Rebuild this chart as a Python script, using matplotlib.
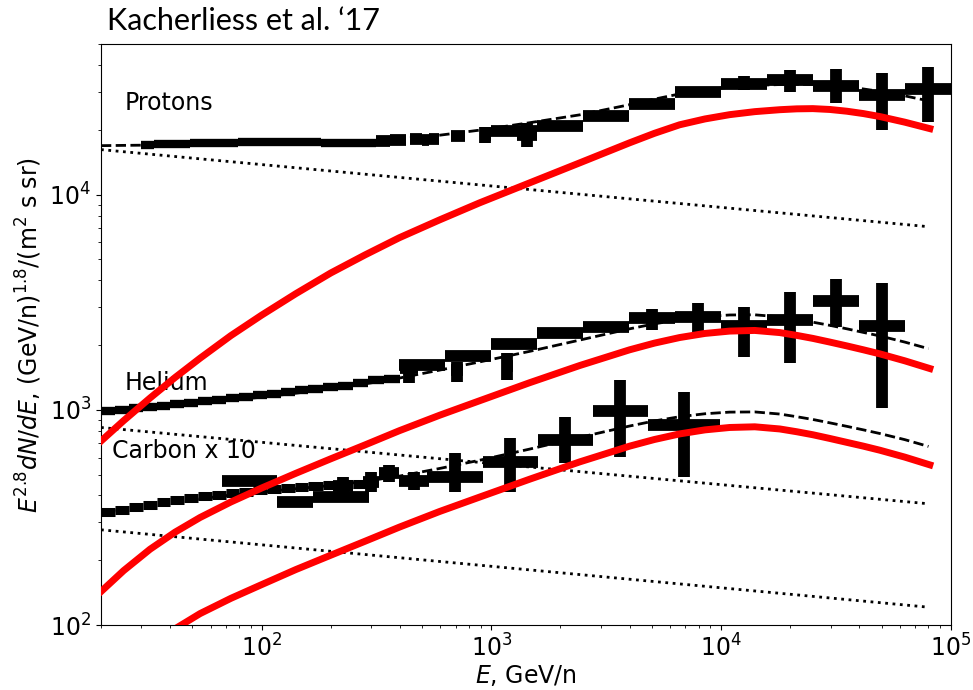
import numpy as np
import matplotlib
matplotlib.use("Agg")
import matplotlib.pyplot as plt

# model curves, E in GeV/n, flux in E^2.8 dN/dE units
E_DOT = [20, 80000]
P_DOT = [16200, 7100]
HE_DOT = [828, 366]
C_DOT = [277, 121]

E_MODEL = [20, 25.1, 32.7, 42, 54, 73.5, 100, 141, 200, 282, 398, 596, 889, 1469, 2427,
           4000, 5129, 6607, 8511, 10910, 14030, 18030, 21380, 25120, 29790, 35320,
           41690, 49200, 63100, 81100]

P_RED = [716, 891, 1135, 1413, 1738, 2213, 2754, 3467, 4325, 5248, 6310, 7638, 9162, 11350, 14060,
         17420, 19280, 21130, 22490, 23550, 24320, 24830, 25060, 25120, 24890, 24430,
         23820, 23070, 21730, 20280]
HE_RED = [143, 179, 225, 270, 316, 373, 433, 507, 592, 687, 800, 944, 1102, 1337, 1607,
          1901, 2042, 2168, 2265, 2323, 2339, 2286, 2218, 2148, 2065, 1982,
          1901, 1820, 1690, 1556]
C_RED = [51, 64, 80, 96, 113, 133, 154, 181, 211, 245, 285, 337, 393, 476, 573,
         678, 728, 773, 807, 828, 834, 815, 791, 766, 736, 706,
         678, 649, 603, 555]

P_TOT = [16900, 16950, 17000, 17050, 17100, 17150, 17200, 17300, 17450, 17700, 18150, 18900, 19950, 21600, 23500,
         26200, 27800, 29400, 30700, 31600, 32200, 32500, 32600, 32500, 32200, 31700,
         31000, 30200, 28800, 27300]
HE_TOT = [982, 995, 1018, 1040, 1075, 1110, 1145, 1195, 1255, 1320, 1405, 1530, 1670, 1870, 2110,
          2380, 2510, 2625, 2715, 2760, 2765, 2705, 2630, 2555, 2470, 2380,
          2290, 2205, 2065, 1925]
C_TOT = [332, 343, 358, 374, 386, 402, 415, 430, 445, 465, 492, 534, 583, 657, 745,
         841, 888, 929, 959, 976, 978, 956, 929, 902, 870, 838,
         807, 776, 727, 676]

# measured points: narrow-bin band (no visible y error)
P_BAND_LO = [30, 34, 38.5, 43.5, 49, 55, 62, 70, 79, 89, 100, 113, 127, 143, 161, 181, 204, 230, 259, 287]
P_BAND_HI = [34, 38.5, 43.5, 49, 55, 62, 70, 79, 89, 100, 113, 127, 143, 161, 181, 204, 230, 259, 287, 316]
P_BAND = [17100, 17150, 17200, 17250, 17300, 17350, 17400, 17450, 17500, 17550,
          17550, 17600, 17600, 17550, 17500, 17450, 17450, 17400, 17450, 17460]

HE_BAND_LO = [20, 23, 26.5, 30.5, 35, 40, 46, 53, 61, 70, 80, 92, 106, 122, 140, 160, 185, 215, 250, 290, 340]
HE_BAND_HI = [23, 26.5, 30.5, 35, 40, 46, 53, 61, 70, 80, 92, 106, 122, 140, 160, 185, 215, 250, 290, 340, 400]
HE_BAND = [985, 1000, 1015, 1030, 1045, 1060, 1080, 1095, 1115, 1135, 1150,
           1170, 1190, 1215, 1235, 1255, 1275, 1290, 1330, 1380, 1390]

C_BAND_LO = [20, 23, 26.5, 30.5, 35, 40, 46, 53, 61, 70, 80, 92, 106, 122, 140, 160, 185, 215, 250]
C_BAND_HI = [23, 26.5, 30.5, 35, 40, 46, 53, 61, 70, 80, 92, 106, 122, 140, 160, 185, 215, 250, 290]
C_BAND = [335, 344, 352, 362, 372, 380, 389, 397, 404, 410, 416, 422, 428, 433, 438, 442, 446, 450, 454]

# measured points with bin edges and error bar ends
P_PTS_LO = [316, 361, 441, 501, 538, 671, 889, 1290, 1000, 1585, 2512, 3981, 6310, 10000, 15850, 25120, 39810, 63100]
P_PTS_HI = [361, 427, 501, 538, 595, 766, 1000, 1575, 1585, 2512, 3981, 6310, 10000, 15850, 25120, 39810, 63100, 100000]
P_PTS = [17840, 18030, 18200, 18030, 18100, 18660, 19010, 19010, 19860, 20940, 23280, 26480, 30130, 32820, 34260, 32120, 29180, 31120]
P_PTS_DN = [16900, 18030, 18200, 18030, 18100, 18660, 17460, 16700, 19860, 20940, 23280, 26480, 30130, 30760, 30130, 26800, 20050, 21880]
P_PTS_UP = [18620, 18030, 18200, 18030, 18100, 18660, 20720, 21630, 19860, 20940, 23280, 26480, 30130, 35730, 38100, 38550, 36900, 39370]

HE_PTS_LO = [400, 671, 1110, 398, 631, 1000, 1585, 2512, 3981, 6310, 10000, 15850, 25120, 39810]
HE_PTS_HI = [480, 750, 1240, 631, 1000, 1585, 2512, 3981, 6310, 10000, 15850, 25120, 39810, 63100]
HE_PTS = [1567, 1535, 1603, 1617, 1782, 2028, 2270, 2432, 2680, 2710, 2460, 2625, 3214, 2460]
HE_PTS_DN = [1336, 1350, 1380, 1617, 1782, 2028, 2270, 2432, 2355, 2305, 1766, 1655, 2432, 1021]
HE_PTS_UP = [1640, 1670, 1841, 1617, 1782, 2028, 2270, 2432, 2950, 3150, 3013, 3540, 4064, 3900]

C_PTS_LO = [67, 117, 168, 204, 276, 326, 398, 523, 916, 1592, 2762, 4797]
C_PTS_HI = [117, 168, 295, 250, 326, 398, 538, 916, 1592, 2762, 4797, 9886]
C_PTS = [465, 373, 394, 443, 463, 509, 468, 488, 573, 725, 989, 851]
C_PTS_DN = [465, 373, 394, 402, 416, 463, 425, 416, 416, 566, 604, 488]
C_PTS_UP = [465, 373, 394, 488, 515, 555, 515, 631, 741, 927, 1380, 1213]


def draw_points(ax, e_lo, e_hi, flux, lower=None, upper=None, lw=8.5):
    e_lo = np.asarray(e_lo, float)
    e_hi = np.asarray(e_hi, float)
    flux = np.asarray(flux, float)
    ec = np.sqrt(e_lo * e_hi)
    xerr = [ec - e_lo, e_hi - ec]
    yerr = None
    if lower is not None:
        yerr = [flux - np.asarray(lower, float), np.asarray(upper, float) - flux]
    ax.errorbar(ec, flux, xerr=xerr, yerr=yerr, fmt="none", ecolor="black",
                elinewidth=lw, capsize=0, zorder=2)


fig = plt.figure(figsize=(9.73, 6.90), dpi=100)
ax = fig.add_axes([0.1038, 0.0942, 0.8733, 0.8416])
ax.set_xscale("log")
ax.set_yscale("log")

draw_points(ax, P_BAND_LO, P_BAND_HI, P_BAND, lw=6)
draw_points(ax, HE_BAND_LO, HE_BAND_HI, HE_BAND, lw=6)
draw_points(ax, C_BAND_LO, C_BAND_HI, C_BAND, lw=6.5)
draw_points(ax, P_PTS_LO, P_PTS_HI, P_PTS, P_PTS_DN, P_PTS_UP)
draw_points(ax, HE_PTS_LO, HE_PTS_HI, HE_PTS, HE_PTS_DN, HE_PTS_UP)
draw_points(ax, C_PTS_LO, C_PTS_HI, C_PTS, C_PTS_DN, C_PTS_UP)

for y in (P_DOT, HE_DOT, C_DOT):
    ax.plot(E_DOT, y, ls=":", color="black", lw=2, zorder=3)
for y in (P_TOT, HE_TOT, C_TOT):
    ax.plot(E_MODEL[:-1] + [80000], y[:-1] + [y[-1]], ls="--", color="black", lw=2, zorder=3)
for y in (P_RED, HE_RED, C_RED):
    ax.plot(E_MODEL, y, color="red", lw=5, zorder=4)

ax.text(25.4, 24800, "Protons", fontsize=17, va="baseline")
ax.text(25.4, 1239, "Helium", fontsize=17, va="baseline")
ax.text(22.3, 598, "Carbon x 10", fontsize=17, va="baseline")

ax.set_xlim(20, 1e5)
ax.set_ylim(100, 5e4)
ax.tick_params(labelsize=17)
ax.set_xlabel("$E$, GeV/n", fontsize=17, labelpad=1)
ax.set_ylabel("$E^{2.8}dN/dE$, (GeV/n)$^{1.8}$/(m$^2$ s sr)", fontsize=17)

fig.text(0.110, 0.9565, "Kacherliess et al. \u201817", fontsize=22,
         family=["Lato", "DejaVu Sans"], va="baseline")

fig.savefig("out.png", dpi=100)
